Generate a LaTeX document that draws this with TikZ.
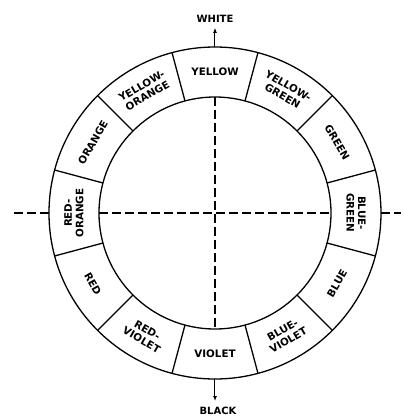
\documentclass[tikz,border=0pt]{standalone}
\usepackage{fontspec}
\setmainfont{DejaVu Sans}
\usetikzlibrary{arrows.meta}
\begin{document}
\begin{tikzpicture}[x=1pt,y=1pt,
  ring/.style={line width=1.3pt},
  lab/.style={font=\bfseries\fontsize{10.3}{11.5}\selectfont, align=center, inner sep=0pt},
  pole/.style={font=\bfseries\fontsize{10}{11}\selectfont, inner sep=0pt},
  axis/.style={line width=1.4pt, dash pattern=on 9pt off 4pt},
  poleline/.style={line width=1pt, -{Latex[length=5pt,width=4pt]}}]
\useasboundingbox (-215,-205) rectangle (189,213);
\def\Ro{166}\def\Ri{116}
\fill[white] (-215,-205) rectangle (189,213);
\coordinate (c) at (0,0);
\draw[ring] (c) circle (\Ro);
\draw[ring] (c) circle (\Ri);
\foreach \a in {15,45,...,345} \draw[ring] (\a:\Ri) -- (\a:\Ro);
\foreach \ang/\rot/\txt in {90/0/YELLOW, 60/-30/{YELLOW-\\GREEN}, 30/-60/GREEN,
  0/-90/{BLUE-\\GREEN}, 330/60/BLUE, 300/30/{BLUE-\\VIOLET}, 270/0/VIOLET,
  240/-30/{RED-\\VIOLET}, 210/-60/RED, 180/90/{RED-\\ORANGE}, 150/60/ORANGE,
  120/30/{YELLOW-\\ORANGE}}
  \node[lab, rotate=\rot] (l\ang) at (\ang:141) {\txt};
% axes
\coordinate (lo) at (-201,0); \coordinate (lr) at (-\Ro,0);
\coordinate (li) at (-\Ri,0); \coordinate (ri) at (\Ri,0);
\coordinate (rr) at (\Ro,0); \coordinate (ro) at (186,0);
\coordinate (ti) at (0,\Ri); \coordinate (bi) at (0,-\Ri);
\draw[axis] (lo) -- (lr);
\draw[axis] (li) -- (ri);
\draw[axis] (rr) -- (ro);
\draw[axis] (ti) -- (bi);
% poles
\node[pole] (white) at (0,194) {WHITE};
\node[pole] (black) at (3,-198) {BLACK};
\coordinate (tt) at (0,\Ro); \coordinate (bb) at (0,-\Ro);
\draw[poleline, shorten >=5pt] (tt) -- (white.south);
\draw[poleline, shorten >=6pt] (bb) -- (bb |- black.north);
\end{tikzpicture}
\end{document}
